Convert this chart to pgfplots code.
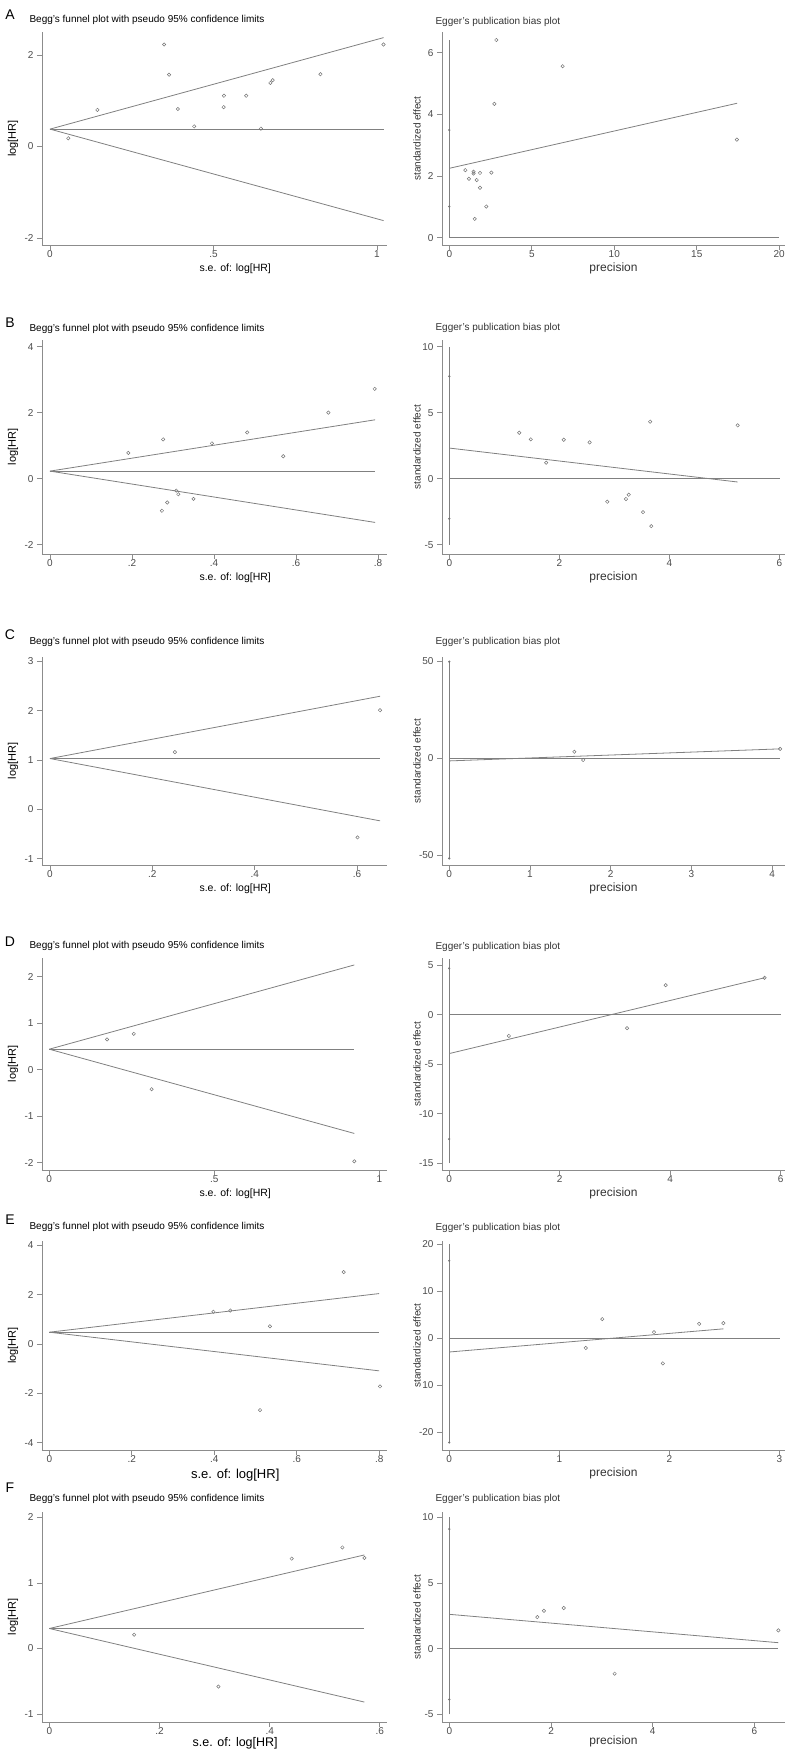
\documentclass[border=0pt]{standalone}
\usepackage{fontspec}
\setmainfont{Liberation Sans}
\usepackage{pgfplots}
\pgfplotsset{compat=1.18}
\definecolor{lc}{gray}{0.5}
\definecolor{ac}{gray}{0.55}
\definecolor{tc}{gray}{0.3}
\definecolor{mc}{gray}{0.45}
\pgfplotsset{
  base/.style={scale only axis, axis lines=left,
    axis line style={-, draw=ac, line width=0.8pt},
    tick align=outside, major tick length=5pt,
    every tick/.style={draw=ac, line width=0.7pt},
    ticklabel style={font=\fontsize{10}{12}\selectfont, text=tc},
    xticklabel style={yshift=3pt},
    /pgf/number format/assume math mode=true,
    clip=false, minor tick num=0, anchor=south west},
  L/.style={base, width=345pt, ylabel={log[HR]}, xlabel={s.e. of: log[HR]},
    every axis y label/.style={at={(axis description cs:-0.084,0.5)}, rotate=90, anchor=center, font=\fontsize{11}{13}\selectfont, text=black},
    every axis x label/.style={at={(axis description cs:0.56,0)}, anchor=center, yshift=-24pt, font=\fontsize{10.5}{12}\selectfont, text=black}},
  R/.style={base, width=343pt, ylabel={standardized effect}, xlabel={precision},
    every axis y label/.style={at={(axis description cs:-0.073,0.5)}, rotate=90, anchor=center, font=\fontsize{10}{12}\selectfont, text=black!80},
    every axis x label/.style={at={(axis description cs:0.5,0)}, anchor=center, yshift=-23pt, font=\fontsize{12}{14}\selectfont, text=black!80}},
  ln/.style={draw=lc, mark=none, line width=0.8pt},
  pts/.style={only marks, mark=o, mark size=1.7pt, draw=mc, mark options={line width=0.5pt}},
  ci/.style={only marks, mark=*, mark size=0.9pt, draw=mc, fill=mc},
}
\newcommand{\Ltitle}{Begg's funnel plot with pseudo 95\% confidence limits}
\newcommand{\Rtitle}{Egger's publication bias plot}
\begin{document}
\begin{tikzpicture}
\useasboundingbox (0,0) rectangle (800pt,-1750pt);
\tikzset{lett/.style={anchor=center, font=\fontsize{14}{16}\selectfont},
  lt/.style={anchor=west, font=\fontsize{10}{12}\selectfont, text=black},
  rt/.style={anchor=west, font=\fontsize{10}{12}\selectfont, text=black!80}}
\node[lett] at (10pt,-15pt) {A};
\node[lett] at (10pt,-323pt) {B};
\node[lett] at (10pt,-635pt) {C};
\node[lett] at (10pt,-942pt) {D};
\node[lett] at (10pt,-1220pt) {E};
\node[lett] at (10pt,-1488pt) {F};
\node[lt] at (26pt,-20pt) {\Ltitle};
\node[rt] at (432pt,-22pt) {\Rtitle};
\node[lt] at (26pt,-329pt) {\Ltitle};
\node[rt] at (432pt,-328pt) {\Rtitle};
\node[lt] at (26pt,-642pt) {\Ltitle};
\node[rt] at (432pt,-642pt) {\Rtitle};
\node[lt] at (26pt,-946pt) {\Ltitle};
\node[rt] at (432pt,-947pt) {\Rtitle};
\node[lt] at (26pt,-1227pt) {\Ltitle};
\node[rt] at (432pt,-1228pt) {\Rtitle};
\node[lt] at (26pt,-1499pt) {\Ltitle};
\node[rt] at (432pt,-1499pt) {\Rtitle};

% ---------- A ----------
\begin{axis}[L, at={(42pt,-245pt)}, height=213pt, xmin=-0.0245, xmax=1.0306, ymin=-2.153, ymax=2.503,
  xtick={0,0.5,1}, xticklabels={0,.5,1}, ytick={-2,0,2}]
\addplot[ln] coordinates {(0,0.38) (1.02,2.38)};
\addplot[ln] coordinates {(0,0.38) (1.02,-1.62)};
\addplot[ln] coordinates {(0,0.38) (1.02,0.38)};
\addplot[pts] coordinates {(0.056,0.18) (0.145,0.80) (0.349,2.23) (0.364,1.57) (0.391,0.82) (0.441,0.44) (0.532,1.11) (0.531,0.86) (0.600,1.11) (0.645,0.39) (0.674,1.39) (0.681,1.45) (0.827,1.58) (1.020,2.23)};
\end{axis}
\begin{axis}[R, at={(442pt,-245pt)}, height=213pt, xmin=-0.443, xmax=20.35, ymin=-0.237, ymax=6.67,
  xtick={0,5,10,15,20}, ytick={0,2,4,6}]
\addplot[ln] coordinates {(0,0) (0,6.41)};
\addplot[ln] coordinates {(0,0) (20,0)};
\addplot[ln] coordinates {(0,2.25) (17.45,4.36)};
\addplot[ci] coordinates {(0,3.49) (0,1.01)};
\addplot[pts] coordinates {(0.97,2.19) (1.19,1.91) (1.47,2.14) (1.47,2.08) (1.66,1.87) (1.86,2.10) (1.86,1.62) (1.54,0.61) (2.24,1.01) (2.55,2.11) (2.73,4.34) (2.85,6.41) (6.87,5.56) (17.43,3.18)};
\end{axis}

% ---------- B ----------
\begin{axis}[L, at={(42pt,-554pt)}, height=214pt, xmin=-0.0195, xmax=0.822, ymin=-2.28, ymax=4.20,
  xtick={0,0.2,0.4,0.6,0.8}, xticklabels={0,.2,.4,.6,.8}, ytick={-2,0,2,4}]
\addplot[ln] coordinates {(0,0.23) (0.793,1.784)};
\addplot[ln] coordinates {(0,0.23) (0.793,-1.324)};
\addplot[ln] coordinates {(0,0.23) (0.793,0.23)};
\addplot[pts] coordinates {(0.191,0.78) (0.276,1.19) (0.273,-0.97) (0.286,-0.72) (0.308,-0.36) (0.313,-0.47) (0.350,-0.61) (0.395,1.07) (0.481,1.40) (0.569,0.68) (0.679,2.00) (0.792,2.72)};
\end{axis}
\begin{axis}[R, at={(442pt,-554pt)}, height=214pt, xmin=-0.133, xmax=6.10, ymin=-5.70, ymax=10.5,
  xtick={0,2,4,6}, ytick={-5,0,5,10}]
\addplot[ln] coordinates {(0,-5) (0,10)};
\addplot[ln] coordinates {(0,0) (6,0)};
\addplot[ln] coordinates {(0,2.32) (5.24,-0.25)};
\addplot[ci] coordinates {(0,7.75) (0,-3.03)};
\addplot[pts] coordinates {(1.27,3.48) (1.48,2.98) (1.76,1.21) (2.08,2.95) (2.55,2.75) (2.87,-1.74) (3.21,-1.54) (3.26,-1.21) (3.52,-2.53) (3.65,4.32) (3.67,-3.59) (5.24,4.04)};
\end{axis}

% ---------- C ----------
\begin{axis}[L, at={(42pt,-865pt)}, height=208pt, xmin=-0.0156, xmax=0.6586, ymin=-1.13, ymax=3.09,
  xtick={0,0.2,0.4,0.6}, xticklabels={0,.2,.4,.6}, ytick={-1,0,1,2,3}]
\addplot[ln] coordinates {(0,1.03) (0.645,2.294)};
\addplot[ln] coordinates {(0,1.03) (0.645,-0.234)};
\addplot[ln] coordinates {(0,1.03) (0.645,1.03)};
\addplot[pts] coordinates {(0.244,1.16) (0.601,-0.57) (0.645,2.01)};
\end{axis}
\begin{axis}[R, at={(442pt,-865pt)}, height=208pt, xmin=-0.09, xmax=4.16, ymin=-55, ymax=52.1,
  xtick={0,1,2,3,4}, ytick={-50,0,50}]
\addplot[ln] coordinates {(0,-51.6) (0,50)};
\addplot[ln] coordinates {(0,0) (4.1,0)};
\addplot[ln] coordinates {(0,-1.4) (4.1,4.8)};
\addplot[ci] coordinates {(0,49.7) (0,-51.6)};
\addplot[pts] coordinates {(1.55,3.3) (1.66,-0.9) (4.10,4.8)};
\end{axis}

% ---------- D ----------
\begin{axis}[L, at={(42pt,-1170pt)}, height=212pt, xmin=-0.022, xmax=1.023, ymin=-2.157, ymax=2.40,
  xtick={0,0.5,1}, xticklabels={0,.5,1}, ytick={-2,-1,0,1,2}]
\addplot[ln] coordinates {(0,0.44) (0.924,2.251)};
\addplot[ln] coordinates {(0,0.44) (0.924,-1.371)};
\addplot[ln] coordinates {(0,0.44) (0.924,0.44)};
\addplot[pts] coordinates {(0.175,0.65) (0.256,0.77) (0.310,-0.42) (0.924,-1.97)};
\end{axis}
\begin{axis}[R, at={(442pt,-1170pt)}, height=212pt, xmin=-0.13, xmax=6.08, ymin=-15.7, ymax=5.75,
  xtick={0,2,4,6}, ytick={-15,-10,-5,0,5}]
\addplot[ln] coordinates {(0,-15) (0,5.6)};
\addplot[ln] coordinates {(0,0) (6,0)};
\addplot[ln] coordinates {(0,-3.92) (5.71,3.75)};
\addplot[ci] coordinates {(0,4.7) (0,-12.57)};
\addplot[pts] coordinates {(1.08,-2.13) (3.22,-1.35) (3.92,3.0) (5.71,3.75)};
\end{axis}

% ---------- E ----------
\begin{axis}[L, at={(42pt,-1450pt)}, height=209pt, xmin=-0.0177, xmax=0.819, ymin=-4.30, ymax=4.18,
  xtick={0,0.2,0.4,0.6,0.8}, xticklabels={0,.2,.4,.6,.8}, ytick={-4,-2,0,2,4},
  xlabel style={font=\fontsize{13}{15}\selectfont, yshift=-1pt}]
\addplot[ln] coordinates {(0,0.48) (0.80,2.048)};
\addplot[ln] coordinates {(0,0.48) (0.80,-1.088)};
\addplot[ln] coordinates {(0,0.48) (0.80,0.48)};
\addplot[pts] coordinates {(0.398,1.31) (0.439,1.36) (0.511,-2.68) (0.535,0.72) (0.714,2.92) (0.802,-1.72)};
\end{axis}
\begin{axis}[R, at={(442pt,-1450pt)}, height=209pt, xmin=-0.066, xmax=3.05, ymin=-23.8, ymax=20.7,
  xtick={0,1,2,3}, ytick={-20,-10,0,10,20}, yticklabels={-20,10,0,10,20}]
\addplot[ln] coordinates {(0,-22.4) (0,20)};
\addplot[ln] coordinates {(0,0) (3,0)};
\addplot[ln] coordinates {(0,-2.93) (2.49,2.0)};
\addplot[ci] coordinates {(0,16.5) (0,-22.2)};
\addplot[pts] coordinates {(1.24,-2.07) (1.39,4.07) (1.86,1.29) (1.94,-5.36) (2.27,3.07) (2.49,3.21)};
\end{axis}

% ---------- F ----------
\begin{axis}[L, at={(42pt,-1722pt)}, height=210pt, xmin=-0.0133, xmax=0.613, ymin=-1.12, ymax=2.08,
  xtick={0,0.2,0.4,0.6}, xticklabels={0,.2,.4,.6}, ytick={-1,0,1,2},
  xlabel style={font=\fontsize{12.5}{14}\selectfont, yshift=2.5pt}]
\addplot[ln] coordinates {(0,0.305) (0.572,1.426)};
\addplot[ln] coordinates {(0,0.305) (0.572,-0.816)};
\addplot[ln] coordinates {(0,0.305) (0.572,0.305)};
\addplot[pts] coordinates {(0.154,0.21) (0.307,-0.58) (0.440,1.37) (0.532,1.54) (0.572,1.38)};
\end{axis}
\begin{axis}[R, at={(442pt,-1722pt)}, height=210pt, xmin=-0.144, xmax=6.6, ymin=-5.58, ymax=10.41,
  xtick={0,2,4,6}, ytick={-5,0,5,10}, xlabel style={yshift=3.5pt}]
\addplot[ln] coordinates {(0,-5) (0,10)};
\addplot[ln] coordinates {(0,0) (6.47,0)};
\addplot[ln] coordinates {(0,2.62) (6.47,0.46)};
\addplot[ci] coordinates {(0,9.11) (0,-3.86)};
\addplot[pts] coordinates {(1.73,2.41) (1.86,2.89) (2.25,3.10) (3.25,-1.90) (6.47,1.40)};
\end{axis}
\end{tikzpicture}
\end{document}
